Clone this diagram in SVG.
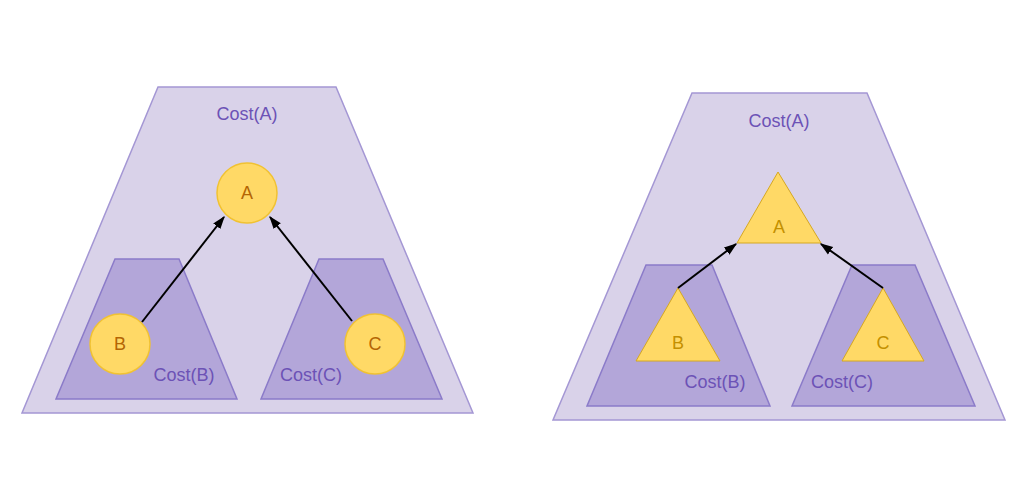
<svg xmlns="http://www.w3.org/2000/svg" width="1028" height="497" viewBox="0 0 1028 497">
<defs>
<style>
.outer{fill:#d9d2e9;stroke:#a497d4;stroke-width:1.5}
.inner{fill:#b3a6d9;stroke:#8b7bc9;stroke-width:1.5}
.node{fill:#ffd966;stroke:#f1c232;stroke-width:1.5}
.tri{fill:#ffd966;stroke:#d6a820;stroke-width:1}
.cost{font-family:"Liberation Sans",Arial,sans-serif;font-size:18px;fill:#6c52b6;text-anchor:middle}
.lbl{font-family:"Liberation Sans",Arial,sans-serif;font-size:18px;fill:#b46504;text-anchor:middle}
.tlbl{font-family:"Liberation Sans",Arial,sans-serif;font-size:18px;fill:#c49000;text-anchor:middle}
.edge{stroke:#000;stroke-width:2;fill:none;marker-end:url(#arr)}
</style>
<marker id="arr" viewBox="0 0 10 10" refX="9" refY="5" markerWidth="6.5" markerHeight="6.5" orient="auto" markerUnits="strokeWidth">
<path d="M0,1.5 L10,5 L0,8.5 Z" fill="#000"/>
</marker>
</defs>

<g id="left-costA">
<polygon class="outer" points="158,87 336,87 473,413 22,413"/>
<text class="cost" x="247" y="120">Cost(A)</text>
</g>
<g id="left-costB">
<polygon class="inner" points="115,259 179,259 237,399 56,399"/>
<text class="cost" x="184" y="381">Cost(B)</text>
</g>
<g id="left-costC">
<polygon class="inner" points="319,259 383,259 442,399 261,399"/>
<text class="cost" x="311" y="381">Cost(C)</text>
</g>
<g id="left-A">
<circle class="node" cx="247" cy="193" r="30"/>
<text class="lbl" x="247" y="199">A</text>
</g>
<g id="left-B">
<circle class="node" cx="120" cy="344" r="30"/>
<text class="lbl" x="120" y="350">B</text>
</g>
<g id="left-C">
<circle class="node" cx="375" cy="344" r="30"/>
<text class="lbl" x="375" y="350">C</text>
</g>

<g id="right-costA">
<polygon class="outer" points="692,93 867,93 1005,420 553,420"/>
<text class="cost" x="779" y="127">Cost(A)</text>
</g>
<g id="right-costB">
<polygon class="inner" points="646,265 712,265 770,406 587,406"/>
<text class="cost" x="715" y="388">Cost(B)</text>
</g>
<g id="right-costC">
<polygon class="inner" points="852,265 915,265 975,406 792,406"/>
<text class="cost" x="842" y="388">Cost(C)</text>
</g>
<g id="right-A">
<polygon class="tri" points="778,172 821,243 737,243"/>
<text class="tlbl" x="779" y="233">A</text>
</g>
<g id="right-B">
<polygon class="tri" points="678,288 720,361 636,361"/>
<text class="tlbl" x="678" y="349">B</text>
</g>
<g id="right-C">
<polygon class="tri" points="883,288 924,361 842,361"/>
<text class="tlbl" x="883" y="349">C</text>
</g>

<g id="connectors">
<line class="edge" x1="142" y1="322" x2="224" y2="217"/>
<line class="edge" x1="352" y1="321" x2="270" y2="217"/>
<line class="edge" x1="678" y1="288" x2="736" y2="244"/>
<line class="edge" x1="883" y1="288" x2="821" y2="244"/>
</g>
</svg>
